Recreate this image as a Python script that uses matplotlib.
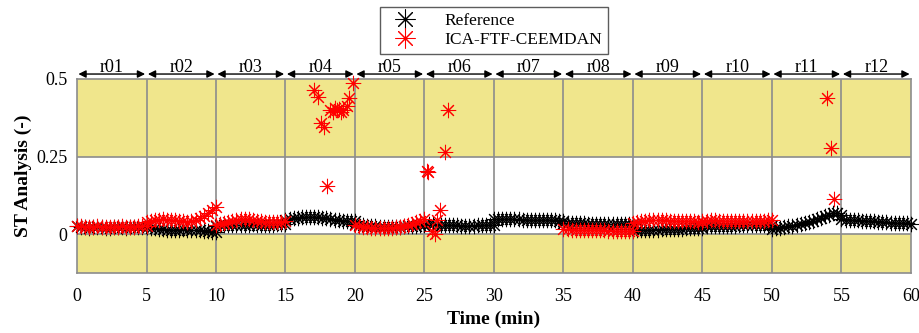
import numpy as np
import matplotlib
matplotlib.use('Agg')
import matplotlib.pyplot as plt

plt.rcParams['font.family'] = ['Liberation Serif', 'DejaVu Serif']

# ST analysis per 5-minute recording segment (r01..r12)
seg_names = ['r01', 'r02', 'r03', 'r04', 'r05', 'r06', 'r07', 'r08', 'r09', 'r10', 'r11', 'r12']
seg_len = 5

# reference signal, one list per segment
ref_r01 = [0.025, 0.024, 0.022, 0.021, 0.022, 0.023, 0.022, 0.020, 0.021, 0.022, 0.023, 0.022, 0.021, 0.022, 0.024, 0.023, 0.022, 0.023]
ref_r02 = [0.022, 0.020, 0.019, 0.018, 0.016, 0.015, 0.015, 0.014, 0.015, 0.016, 0.015, 0.014, 0.013, 0.012, 0.011, 0.009, 0.008, 0.007]
ref_r03 = [0.028, 0.029, 0.030, 0.030, 0.031, 0.030, 0.029, 0.030, 0.031, 0.032, 0.031, 0.030, 0.029, 0.030, 0.031, 0.032, 0.033, 0.034]
ref_r04 = [0.046, 0.049, 0.051, 0.053, 0.055, 0.056, 0.056, 0.055, 0.054, 0.052, 0.051, 0.049, 0.047, 0.046, 0.044, 0.043, 0.042, 0.041]
ref_r05 = [0.034, 0.031, 0.029, 0.027, 0.026, 0.025, 0.024, 0.024, 0.023, 0.023, 0.024, 0.024, 0.025, 0.026, 0.027, 0.028, 0.029, 0.030]
ref_r06 = [0.034, 0.033, 0.032, 0.031, 0.030, 0.030, 0.029, 0.029, 0.029, 0.028, 0.028, 0.028, 0.028, 0.029, 0.029, 0.029, 0.030, 0.030]
ref_r07 = [0.050, 0.050, 0.049, 0.049, 0.048, 0.048, 0.048, 0.047, 0.047, 0.047, 0.046, 0.046, 0.046, 0.045, 0.045, 0.045, 0.044, 0.044]
ref_r08 = [0.037, 0.036, 0.036, 0.035, 0.035, 0.035, 0.034, 0.034, 0.034, 0.034, 0.033, 0.033, 0.033, 0.033, 0.032, 0.032, 0.032, 0.032]
ref_r09 = [0.016, 0.015, 0.015, 0.014, 0.014, 0.015, 0.015, 0.016, 0.016, 0.017, 0.017, 0.018, 0.018, 0.019, 0.019, 0.020, 0.020, 0.021]
ref_r10 = [0.026, 0.026, 0.027, 0.027, 0.027, 0.028, 0.028, 0.028, 0.028, 0.029, 0.029, 0.029, 0.029, 0.029, 0.030, 0.030, 0.030, 0.030]
ref_r11 = [0.018, 0.019, 0.021, 0.023, 0.025, 0.027, 0.030, 0.033, 0.036, 0.040, 0.044, 0.048, 0.053, 0.058, 0.063, 0.067, 0.068, 0.062]
ref_r12 = [0.048, 0.047, 0.046, 0.046, 0.045, 0.044, 0.043, 0.042, 0.041, 0.040, 0.039, 0.038, 0.037, 0.036, 0.036, 0.035, 0.035, 0.034]

# ICA-FTF-CEEMDAN estimate on segments where it tracks continuously
ica_r01 = [0.027, 0.025, 0.024, 0.023, 0.024, 0.025, 0.024, 0.023, 0.022, 0.023, 0.024, 0.025, 0.024, 0.023, 0.024, 0.025, 0.026, 0.027]
ica_r02 = [0.040, 0.044, 0.046, 0.047, 0.048, 0.047, 0.046, 0.045, 0.044, 0.042, 0.040, 0.041, 0.045, 0.052, 0.060, 0.068, 0.077, 0.088]
ica_r03 = [0.030, 0.033, 0.036, 0.040, 0.044, 0.047, 0.049, 0.050, 0.049, 0.047, 0.044, 0.041, 0.039, 0.038, 0.038, 0.039, 0.040, 0.041]
ica_r05 = [0.030, 0.026, 0.024, 0.022, 0.021, 0.020, 0.019, 0.019, 0.020, 0.021, 0.022, 0.024, 0.027, 0.030, 0.034, 0.039, 0.044, 0.050]
ica_r08 = [0.018, 0.016, 0.015, 0.014, 0.014, 0.013, 0.013, 0.013, 0.012, 0.012, 0.012, 0.011, 0.011, 0.011, 0.010, 0.010, 0.010, 0.010]
ica_r09 = [0.035, 0.038, 0.041, 0.043, 0.045, 0.046, 0.047, 0.046, 0.045, 0.044, 0.043, 0.043, 0.042, 0.042, 0.041, 0.041, 0.040, 0.040]
ica_r10 = [0.043, 0.044, 0.045, 0.045, 0.044, 0.043, 0.043, 0.042, 0.042, 0.042, 0.041, 0.041, 0.042, 0.042, 0.043, 0.044, 0.045, 0.046]

# sparse ICA-FTF-CEEMDAN estimates (time in min, value)
ica_r04_t = [17.07, 17.36, 17.53, 17.77, 17.96, 18.20, 18.40, 18.56, 18.70, 18.87, 19.00, 19.16, 19.40, 19.60, 19.88]
ica_r04_v = [0.465, 0.443, 0.359, 0.344, 0.155, 0.400, 0.395, 0.405, 0.400, 0.402, 0.395, 0.400, 0.413, 0.438, 0.486]
ica_r06_t = [25.15, 25.25, 25.55, 25.75, 25.90, 26.15, 26.47, 26.72]
ica_r06_v = [0.205, 0.200, 0.010, 0.000, 0.045, 0.078, 0.265, 0.400]
ica_r11_t = [53.98, 54.22, 54.46]
ica_r11_v = [0.438, 0.278, 0.115]

ref_segments = {0: ref_r01, 1: ref_r02, 2: ref_r03, 3: ref_r04, 4: ref_r05, 5: ref_r06,
                6: ref_r07, 7: ref_r08, 8: ref_r09, 9: ref_r10, 10: ref_r11, 11: ref_r12}
ica_segments = {0: ica_r01, 1: ica_r02, 2: ica_r03, 4: ica_r05, 7: ica_r08, 8: ica_r09, 9: ica_r10}


def seg_times(idx, vals):
    start = idx * seg_len
    return np.linspace(start, start + seg_len, len(vals))


ref_t = np.concatenate([seg_times(i, v) for i, v in ref_segments.items()])
ref_v = np.concatenate(list(ref_segments.values()))
ica_t = np.concatenate([seg_times(i, v) for i, v in ica_segments.items()] + [ica_r04_t, ica_r06_t, ica_r11_t])
ica_v = np.concatenate(list(ica_segments.values()) + [ica_r04_v, ica_r06_v, ica_r11_v])

fig = plt.figure(figsize=(9.2, 3.33), dpi=100)
ax = fig.add_axes([77 / 920, 1 - 273 / 333, 834 / 920, 194 / 333])

ymin, ymax = -0.125, 0.5
ax.set_xlim(0, 60)
ax.set_ylim(ymin, ymax)

# shaded bands outside the 0..0.25 range
band = '#F0E68C'
ax.axhspan(0.25, ymax, color=band, zorder=0, lw=0)
ax.axhspan(ymin, 0, color=band, zorder=0, lw=0)

grid_c = '#8c8c8c'
for x in range(5, 60, 5):
    ax.axvline(x, color=grid_c, lw=1.2, zorder=1)
for y in [0, 0.25]:
    ax.axhline(y, color=grid_c, lw=1.2, zorder=1)
for s in ax.spines.values():
    s.set_color(grid_c)
    s.set_linewidth(1.2)

star = (8, 2, 0)
ax.plot(ref_t, ref_v, ls='none', marker=star, ms=11, mew=0.75, color='k',
        clip_on=False, zorder=3, label='Reference')
ax.plot(ica_t, ica_v, ls='none', marker=star, ms=11, mew=0.75, color='#ff0000',
        clip_on=False, zorder=4, label='ICA-FTF-CEEMDAN')

# segment markers above the plot
for i, name in enumerate(seg_names):
    s, e = i * seg_len, (i + 1) * seg_len
    ax.annotate('', xy=(s, 0.516), xytext=(e, 0.516), annotation_clip=False,
                arrowprops=dict(arrowstyle='<|-|>', color='k', lw=1,
                                mutation_scale=11, shrinkA=1, shrinkB=1))
    ax.text((s + e) / 2, 0.524, name, ha='center', va='baseline', fontsize=13)

ax.set_xticks(range(0, 61, 5))
ax.set_yticks([0, 0.25, 0.5])
ax.set_yticklabels(['0', '0.25', '0.5'])
ax.tick_params(length=0, labelsize=13)
ax.tick_params(axis='x', pad=11)
ax.tick_params(axis='y', pad=7)

ax.set_xlabel('Time (min)', fontsize=14, fontweight='bold', labelpad=4)
ax.set_ylabel('ST Analysis (-)', fontsize=14, fontweight='bold', labelpad=3)

leg = fig.legend(loc='upper center', bbox_to_anchor=(0.537, 0.978), fontsize=12.5,
                 frameon=True, fancybox=False, edgecolor='#333333',
                 handlelength=2.2, handletextpad=1.2, labelspacing=0.2,
                 borderpad=0.3, borderaxespad=0, markerscale=1.3)
leg.get_frame().set_linewidth(1)

fig.savefig('out.png', dpi=100)
